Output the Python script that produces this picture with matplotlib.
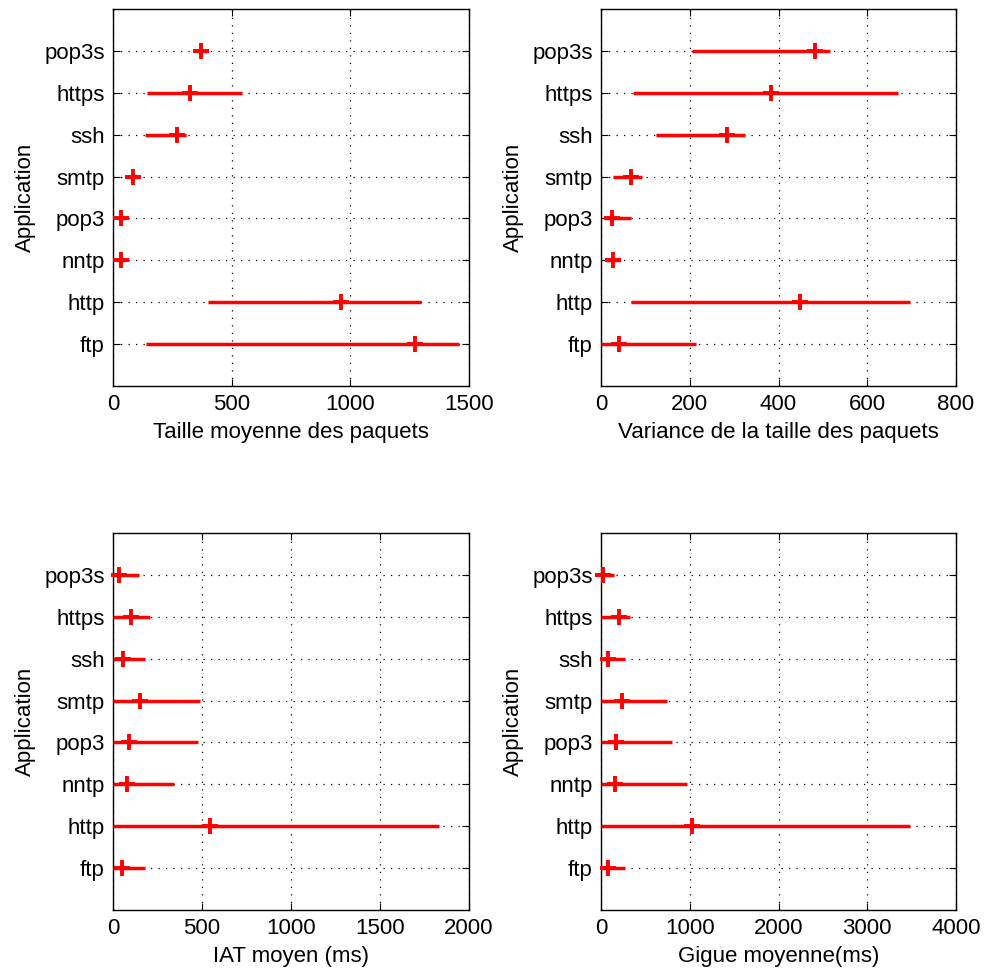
import matplotlib
matplotlib.use("Agg")
import matplotlib.pyplot as plt

plt.rcParams['font.family'] = ['Liberation Sans', 'DejaVu Sans']

apps = ["ftp", "http", "nntp", "pop3", "smtp", "ssh", "https", "pop3s"]

# Taille moyenne des paquets
size_mean = [1274, 961, 32, 32, 84, 270, 323, 372]
size_min = [138, 400, 15, 15, 65, 136, 145, 350]
size_max = [1458, 1299, 50, 50, 105, 309, 545, 395]

# Variance de la taille des paquets
var_mean = [41, 448, 26, 24, 67, 284, 384, 483]
var_min = [0, 67, 12, 7, 26, 124, 73, 206]
var_max = [214, 696, 42, 67, 92, 324, 669, 516]

# IAT moyen (ms)
iat_mean = [49, 544, 79, 92, 152, 54, 103, 32]
iat_min = [0, 0, 0, 0, 0, 0, 0, 0]
iat_max = [178, 1831, 340, 480, 491, 180, 210, 148]

# Gigue moyenne (ms)
jit_mean = [83, 1024, 161, 169, 240, 83, 206, 26]
jit_min = [0, 0, 0, 0, 0, 0, 0, 0]
jit_max = [266, 3478, 968, 795, 739, 266, 326, 146]

panels = [
    (size_mean, size_min, size_max, "Taille moyenne des paquets", [0, 500, 1000, 1500], (0, 1500)),
    (var_mean, var_min, var_max, "Variance de la taille des paquets", [0, 200, 400, 600, 800], (0, 800)),
    (iat_mean, iat_min, iat_max, "IAT moyen (ms)", [0, 500, 1000, 1500, 2000], (0, 2000)),
    (jit_mean, jit_min, jit_max, "Gigue moyenne(ms)", [0, 1000, 2000, 3000, 4000], (0, 4000)),
]

W, H = 987, 969
fig = plt.figure(figsize=(W / 100, H / 100), dpi=100)
boxes = [
    (113, 9, 469, 386),
    (601, 9, 956, 386),
    (113, 533, 469, 910),
    (601, 533, 956, 910),
]

ypos = list(range(1, len(apps) + 1))
for (mean, mn, mx, xlabel, xticks, xlim), (x0, y0, x1, y1) in zip(panels, boxes):
    ax = fig.add_axes([x0 / W, (H - y1) / H, (x1 - x0) / W, (y1 - y0) / H])
    ax.hlines(ypos, mn, mx, colors='#ff0000', linewidth=2.5, zorder=3)
    ax.plot(mean, ypos, linestyle='none', marker='+', color='#ff0000',
            markersize=11.5, markeredgewidth=2.8, zorder=4, clip_on=False)
    ax.set_xlim(*xlim)
    ax.set_ylim(0, len(apps) + 1)
    ax.set_xticks(xticks)
    ax.set_xticklabels([str(t) for t in xticks])
    ax.set_yticks(ypos)
    ax.set_yticklabels(apps)
    ax.grid(True, linestyle=(0, (1, 5)), color='black', linewidth=0.9)
    ax.tick_params(direction='in', length=5, width=0.8, labelsize=16,
                   top=True, right=True, pad=6)
    ax.set_xlabel(xlabel, fontsize=16, labelpad=5)
    ax.set_ylabel("Application", fontsize=16, labelpad=6)
    for s in ax.spines.values():
        s.set_linewidth(1.0)

fig.savefig("out.png", dpi=100)
